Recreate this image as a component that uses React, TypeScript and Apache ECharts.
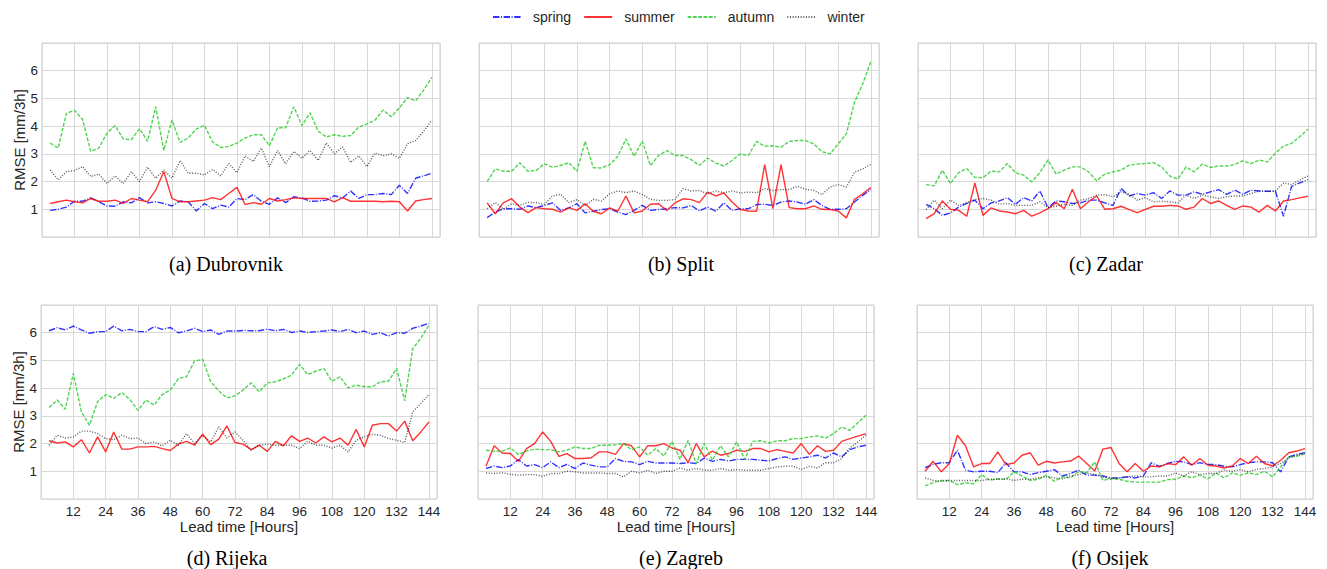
import React, { useEffect, useRef } from "react";
import * as echarts from "echarts";

const HOURS = [3, 6, 9, 12, 15, 18, 21, 24, 27, 30, 33, 36, 39, 42, 45, 48, 51, 54, 57, 60, 63, 66, 69, 72, 75, 78, 81, 84, 87, 90, 93, 96, 99, 102, 105, 108, 111, 114, 117, 120, 123, 126, 129, 132, 135, 138, 141, 144];
const SEASONS = ["spring", "summer", "autumn", "winter"];
const X_TICKS = [12, 24, 36, 48, 60, 72, 84, 96, 108, 120, 132, 144];
const Y_TICKS = [1, 2, 3, 4, 5, 6];
const CAPTIONS = ["(a) Dubrovnik", "(b) Split", "(c) Zadar", "(d) Rijeka", "(e) Zagreb", "(f) Osijek"];

// Dubrovnik
const A_spring = [0.96,1.00,1.08,1.29,1.29,1.41,1.27,1.12,1.11,1.27,1.23,1.42,1.23,1.27,1.21,1.12,1.30,1.27,0.94,1.21,1.02,1.15,1.08,1.39,1.35,1.53,1.29,1.18,1.41,1.24,1.45,1.41,1.29,1.30,1.33,1.49,1.41,1.66,1.39,1.53,1.53,1.57,1.53,1.87,1.57,2.12,2.21,2.30];
const A_summer = [1.21,1.27,1.33,1.27,1.23,1.39,1.29,1.29,1.33,1.21,1.39,1.33,1.27,1.69,2.36,1.39,1.27,1.27,1.30,1.33,1.42,1.35,1.57,1.79,1.17,1.24,1.18,1.39,1.30,1.35,1.41,1.39,1.39,1.39,1.39,1.27,1.42,1.29,1.29,1.29,1.29,1.27,1.29,1.27,0.94,1.30,1.35,1.39];
const A_autumn = [3.39,3.21,4.46,4.57,4.24,3.09,3.21,3.75,4.02,3.54,3.51,3.91,3.45,4.70,3.12,4.22,3.41,3.57,3.90,4.03,3.43,3.23,3.27,3.39,3.57,3.69,3.69,3.29,3.94,3.94,4.70,4.02,4.48,3.82,3.61,3.69,3.63,3.66,3.97,4.08,4.22,4.58,4.34,4.66,5.03,4.91,5.31,5.76];
const A_winter = [2.42,2.06,2.36,2.40,2.54,2.18,2.27,1.93,2.21,1.93,2.36,2.00,2.52,2.12,2.42,2.12,2.76,2.30,2.30,2.24,2.44,2.20,2.66,2.32,2.93,2.72,3.21,2.54,3.12,2.64,3.09,2.84,3.12,2.76,3.39,3.00,3.25,2.69,2.93,2.54,3.03,2.93,3.00,2.84,3.37,3.48,3.82,4.22];
// Split
const B_spring = [0.70,0.90,1.02,1.02,1.00,1.12,1.06,1.14,1.23,0.96,1.05,1.20,0.87,0.93,0.99,1.02,0.90,0.81,0.96,1.14,0.96,0.99,1.02,1.06,1.05,1.14,0.94,1.08,0.93,1.23,0.96,1.02,1.02,1.17,1.18,1.14,1.26,1.30,1.26,1.18,1.35,1.14,1.00,1.00,1.02,1.26,1.50,1.71];
const B_summer = [1.23,0.84,1.24,1.38,1.08,0.88,1.06,1.02,1.00,0.90,1.06,0.96,1.20,0.93,0.84,1.05,0.93,1.48,0.87,0.94,1.18,1.20,0.96,1.23,1.38,1.35,1.24,1.62,1.48,1.59,1.26,0.99,0.94,0.93,2.61,1.02,2.61,1.06,1.02,1.02,1.12,1.00,0.99,0.94,0.69,1.36,1.56,1.78];
const B_autumn = [2.00,2.46,2.37,2.37,2.68,2.37,2.40,2.64,2.52,2.58,2.68,2.37,3.45,2.50,2.49,2.61,2.91,3.54,2.91,3.46,2.58,2.94,3.12,2.94,2.94,2.79,2.58,2.85,2.67,2.56,2.76,3.00,2.94,3.45,3.27,3.29,3.24,3.45,3.48,3.48,3.36,3.08,3.00,3.36,3.72,4.86,5.52,6.34];
const B_winter = [1.02,1.24,1.00,1.20,1.14,1.25,1.24,1.18,1.48,1.54,1.24,1.35,1.14,1.36,1.30,1.56,1.66,1.60,1.66,1.53,1.36,1.32,1.32,1.35,1.74,1.66,1.68,1.56,1.66,1.60,1.66,1.59,1.62,1.60,1.74,1.68,1.71,1.71,1.83,1.72,1.68,1.53,1.80,1.89,1.80,2.34,2.46,2.62];
// Zadar
const C_spring = [1.18,1.02,0.78,0.87,1.08,1.21,1.33,1.02,1.23,1.30,1.42,1.18,1.42,1.30,1.66,1.06,1.30,1.27,1.21,1.23,1.33,1.33,1.23,1.14,1.75,1.48,1.57,1.51,1.60,1.39,1.66,1.51,1.51,1.63,1.54,1.63,1.71,1.54,1.69,1.54,1.69,1.66,1.65,1.65,0.75,1.83,1.95,2.07];
const C_summer = [0.66,0.84,1.30,1.00,0.96,0.75,1.95,0.78,1.05,0.94,0.90,0.84,0.96,0.75,0.87,1.02,1.24,1.02,1.72,1.02,1.27,1.48,1.00,1.02,1.11,0.99,0.88,1.00,1.11,1.11,1.14,1.12,1.00,1.08,1.39,1.21,1.30,1.14,1.00,1.12,1.08,0.90,1.14,0.94,1.30,1.35,1.41,1.47];
const C_autumn = [1.89,1.85,2.41,1.93,2.32,2.47,2.15,2.14,2.38,2.35,2.65,2.32,2.23,1.99,2.32,2.78,2.27,2.41,2.53,2.53,2.35,2.03,2.27,2.35,2.41,2.59,2.63,2.65,2.68,2.53,2.20,2.09,2.53,2.35,2.63,2.51,2.56,2.56,2.62,2.75,2.65,2.78,2.71,3.02,3.28,3.38,3.62,3.89];
const C_winter = [0.99,1.33,1.02,1.33,1.14,1.23,1.35,1.39,1.33,1.18,1.21,1.14,1.14,1.14,1.27,1.06,1.11,1.18,1.14,1.33,1.39,1.51,1.53,1.45,1.63,1.54,1.33,1.42,1.27,1.29,1.27,1.23,1.51,1.39,1.51,1.45,1.39,1.45,1.48,1.48,1.57,1.65,1.65,1.66,1.95,1.89,2.05,2.20];
// Rijeka
const D_spring = [6.07,6.18,6.10,6.24,6.10,5.98,6.04,6.04,6.24,6.07,6.12,6.04,6.04,6.22,6.12,6.19,6.00,6.06,6.16,6.04,6.10,5.94,6.06,6.06,6.08,6.07,6.07,6.13,6.07,6.12,6.01,6.06,6.01,6.04,6.06,6.10,6.04,6.12,6.00,6.06,5.94,6.00,5.88,6.00,5.98,6.16,6.24,6.34];
const D_summer = [2.10,2.02,2.06,1.88,2.14,1.66,2.24,1.70,2.42,1.80,1.80,1.88,1.88,1.90,1.82,1.75,1.98,2.08,1.94,2.34,1.96,2.16,2.64,2.04,1.98,1.78,1.94,1.72,2.08,1.92,2.28,2.08,2.20,2.02,2.24,2.06,2.20,1.94,2.51,1.88,2.66,2.72,2.72,2.45,2.81,2.10,2.42,2.78];
const D_autumn = [3.30,3.57,3.24,4.53,3.14,2.66,3.51,3.77,3.63,3.84,3.59,3.20,3.57,3.39,3.77,3.93,4.35,4.41,4.98,5.04,4.23,3.90,3.65,3.72,3.93,4.19,3.87,4.19,4.23,4.33,4.47,4.86,4.49,4.61,4.71,4.25,4.41,4.01,4.11,4.05,4.05,4.23,4.25,4.71,3.54,5.43,5.80,6.28];
const D_winter = [1.94,2.30,2.20,2.24,2.45,2.45,2.36,2.18,2.14,2.30,2.18,2.20,2.00,2.06,1.92,2.12,1.94,2.36,2.00,2.30,2.06,2.60,2.20,2.42,2.12,1.76,1.94,1.98,1.94,1.94,1.94,1.82,2.08,1.94,1.94,1.84,1.94,1.70,2.12,2.24,2.34,2.30,2.18,2.12,2.04,3.14,3.45,3.77];
// Zagreb
const E_spring = [1.10,1.19,1.13,1.19,1.42,1.19,1.24,1.13,1.34,1.13,1.25,1.10,1.30,1.22,1.16,1.16,1.46,1.36,1.34,1.24,1.36,1.30,1.30,1.30,1.28,1.31,1.28,1.48,1.36,1.43,1.37,1.43,1.43,1.43,1.40,1.37,1.46,1.52,1.43,1.48,1.52,1.58,1.48,1.66,1.52,1.78,1.88,1.94];
const E_summer = [1.19,1.92,1.66,1.64,1.36,1.82,2.00,2.42,2.08,1.54,1.64,1.46,1.46,1.49,1.70,1.70,1.61,2.00,1.92,1.52,1.92,1.92,2.00,1.84,1.76,1.31,2.00,1.52,1.73,1.58,1.64,1.76,1.72,1.82,1.82,1.70,1.78,1.72,1.66,2.00,1.61,1.92,1.72,1.76,2.08,2.18,2.27,2.36];
const E_autumn = [1.76,1.72,1.73,1.84,1.61,1.73,1.80,1.78,1.78,1.70,1.76,1.88,1.82,1.82,1.94,1.94,1.96,2.00,1.78,1.88,1.58,1.82,1.55,2.08,1.43,2.12,1.28,2.00,1.40,1.92,1.52,2.06,1.43,2.08,2.10,2.02,2.10,2.10,2.18,2.18,2.24,2.28,2.20,2.36,2.60,2.48,2.75,3.02];
const E_winter = [0.94,0.92,0.95,0.89,0.86,0.88,0.88,0.82,0.92,0.92,1.00,0.98,0.94,0.94,0.94,0.92,0.92,0.80,1.00,0.94,1.04,0.92,1.00,1.00,1.12,1.04,1.10,1.04,1.04,1.10,1.04,1.06,1.04,1.04,1.04,1.10,1.16,1.18,1.19,1.06,1.18,1.12,1.31,1.31,1.46,1.84,2.06,2.30];
// Osijek
const F_spring = [1.13,1.25,1.31,1.31,1.76,1.04,0.98,1.00,1.00,0.95,1.31,0.98,0.98,0.88,0.95,1.00,1.06,0.83,0.92,1.04,0.86,0.86,0.83,0.76,0.76,0.80,0.76,0.83,1.31,1.18,1.28,1.36,1.34,1.24,1.31,1.25,1.24,1.18,1.16,1.24,1.31,1.34,1.34,1.31,0.98,1.52,1.61,1.67];
const F_summer = [1.00,1.36,0.98,1.28,2.30,1.92,1.16,1.28,1.28,1.70,1.24,1.30,1.58,1.67,1.22,1.36,1.30,1.34,1.37,1.55,1.28,1.01,1.80,1.86,1.28,0.98,1.28,1.00,1.19,1.16,1.28,1.24,1.52,1.22,1.46,1.22,1.19,1.12,1.19,1.46,1.28,1.54,1.28,1.19,1.40,1.67,1.73,1.82];
const F_autumn = [0.47,0.59,0.67,0.67,0.52,0.58,0.55,0.88,0.67,0.73,0.70,0.98,0.83,0.67,0.71,0.86,0.64,0.80,0.76,1.00,0.95,1.34,0.67,0.73,0.71,0.64,0.61,0.61,0.61,0.61,0.70,0.71,0.83,0.77,0.86,0.73,0.94,0.76,0.94,0.86,0.94,0.88,1.00,0.80,1.16,1.52,1.54,1.64];
const F_winter = [0.76,0.67,0.64,0.67,0.67,0.67,0.67,0.67,0.71,0.71,0.73,0.67,0.71,0.71,0.76,0.80,0.76,0.73,0.83,0.88,0.94,0.88,0.80,0.73,0.76,0.80,0.83,0.80,0.80,0.83,0.83,0.94,0.83,0.98,0.88,0.92,0.92,1.04,1.00,1.06,0.98,1.07,1.10,1.16,1.28,1.48,1.58,1.64];

const PANELS = [
  [A_spring, A_summer, A_autumn, A_winter],
  [B_spring, B_summer, B_autumn, B_winter],
  [C_spring, C_summer, C_autumn, C_winter],
  [D_spring, D_summer, D_autumn, D_winter],
  [E_spring, E_summer, E_autumn, E_winter],
  [F_spring, F_summer, F_autumn, F_winter],
];

const GRIDS = [
  { left: 42, top: 43, width: 398, height: 194 },
  { left: 479, top: 43, width: 400, height: 194 },
  { left: 918, top: 43, width: 398, height: 194 },
  { left: 41, top: 305, width: 396, height: 194 },
  { left: 478, top: 305, width: 396, height: 194 },
  { left: 917, top: 305, width: 396, height: 194 },
];
const CAPTION_POS = [
  [226, 264], [681, 264], [1106, 264],
  [227, 558], [681, 558], [1110, 558],
];

const COLORS = ["rgba(0,0,255,0.8)", "rgba(255,0,0,0.8)", "rgba(50,205,50,0.85)", "rgba(0,0,0,0.65)"];
const DASHES: any[] = [[6.4, 1.6, 1, 1.6], "solid", [3.7, 1.6], [1, 1.65]];
const SANS = "'Liberation Sans', Arial, sans-serif";
const SERIF = "'Liberation Serif', 'Times New Roman', serif";
const TXT = "#262626";
const GRIDC = "#d9d9d9";

export default function App() {
  const ref = useRef<HTMLDivElement>(null);
  useEffect(() => {
    if (!ref.current) return;
    const chart = echarts.init(ref.current, null, { renderer: "svg" });
    const grid = GRIDS.map((g) => ({ ...g, show: true, borderColor: "#cccccc", borderWidth: 1, containLabel: false }));
    const xAxis = GRIDS.map((_, i) => ({
      gridIndex: i,
      type: "value",
      min: 0,
      max: 147,
      interval: 12,
      axisLine: { show: false },
      axisTick: { show: false },
      splitLine: { show: true, lineStyle: { color: GRIDC, width: 1 } },
      axisLabel: {
        show: i >= 3,
        margin: 5,
        color: TXT,
        fontSize: 13.5,
        fontFamily: SANS,
        formatter: (v: number) => (X_TICKS.includes(v) ? String(v) : ""),
      },
      name: i >= 3 ? "Lead time [Hours]" : "",
      nameLocation: "middle",
      nameGap: 19,
      nameTextStyle: { color: TXT, fontSize: 15, fontFamily: SANS },
    }));
    const yAxis = GRIDS.map((_, i) => ({
      gridIndex: i,
      type: "value",
      min: 0,
      max: 7,
      interval: 1,
      axisLine: { show: false },
      axisTick: { show: false },
      splitLine: { show: true, lineStyle: { color: GRIDC, width: 1 } },
      axisLabel: {
        show: i % 3 === 0,
        margin: 4,
        color: TXT,
        fontSize: 13.5,
        fontFamily: SANS,
        formatter: (v: number) => (Y_TICKS.includes(v) ? String(v) : ""),
      },
      name: i % 3 === 0 ? "RMSE [mm/3h]" : "",
      nameLocation: "middle",
      nameGap: 15,
      nameTextStyle: { color: TXT, fontSize: 15, fontFamily: SANS },
    }));
    const series: any[] = [];
    PANELS.forEach((panel, p) => {
      panel.forEach((vals, s) => {
        series.push({
          type: "line",
          name: SEASONS[s],
          xAxisIndex: p,
          yAxisIndex: p,
          data: vals.map((v, k) => [HOURS[k], v]),
          showSymbol: false,
          symbol: "none",
          lineStyle: { color: COLORS[s], width: 1.4, type: DASHES[s] },
          itemStyle: { color: COLORS[s] },
          silent: true,
        });
      });
    });
    const graphic = CAPTIONS.map((c, i) => ({
      type: "text",
      x: CAPTION_POS[i][0],
      y: CAPTION_POS[i][1],
      style: {
        text: c,
        fill: "#000",
        fontSize: 20,
        fontFamily: SERIF,
        align: "center",
        verticalAlign: "middle",
      },
    }));
    chart.setOption({
      animation: false,
      backgroundColor: "#ffffff",
      grid,
      xAxis,
      yAxis,
      series,
      graphic,
      legend: {
        data: SEASONS,
        left: 492,
        top: 10,
        padding: 0,
        itemWidth: 28,
        itemHeight: 14,
        itemGap: 12,
        itemStyle: { opacity: 0 },
        textStyle: { color: TXT, fontSize: 14, fontFamily: SANS, padding: [0, 0, 0, 7] },
        selectedMode: false,
      },
    });
    return () => chart.dispose();
  }, []);
  return (
    <div
      ref={ref}
      style={{ position: "fixed", left: 0, top: 0, width: 1327, height: 569 }}
    />
  );
}
